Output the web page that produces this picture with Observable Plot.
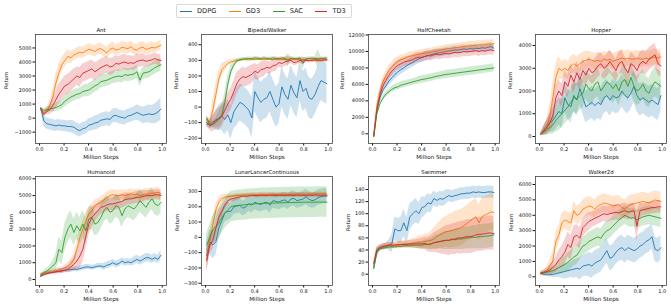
<!DOCTYPE html>
<html><head><meta charset="utf-8">
<script src="https://cdn.jsdelivr.net/npm/d3@7"></script>
<script src="https://cdn.jsdelivr.net/npm/@observablehq/plot@0.6"></script>
<style>
body{margin:0;background:#fff;font-family:"DejaVu Sans",sans-serif;}
#root{position:relative;width:671px;height:308px;overflow:hidden;background:#fff;}
.panel{position:absolute;}
#legend{position:absolute;left:176px;top:4px;height:14px;box-sizing:border-box;border:1px solid #d9d9d9;border-radius:2px;display:flex;align-items:center;padding:0 3px;font-size:6.6px;color:#222;background:#fff;}
#legend .it{display:flex;align-items:center;margin-right:12.5px;}
#legend .it:last-child{margin-right:2px;}
#legend .sw{width:12px;height:1px;margin-right:5px;}
</style></head>
<body><div id="root"><div id="legend"></div></div>
<script>
const series = ["DDPG","GD3","SAC","TD3"];
const colors = ["#1f77b4","#ff7f0e","#2ca02c","#d62728"];
const steps = [0.01,0.035,0.059,0.084,0.108,0.133,0.157,0.182,0.206,0.231,0.255,0.28,0.304,0.329,0.353,0.378,0.402,0.427,0.451,0.476,0.5,0.525,0.549,0.574,0.598,0.623,0.647,0.672,0.696,0.721,0.745,0.77,0.794,0.819,0.843,0.868,0.892,0.917,0.941,0.966,0.99];
const xTicks = [0,0.2,0.4,0.6,0.8,1.0];

// Ant
const antDDPG = [700,-200,-400,-450,-500,-550,-500,-550,-550,-600,-600,-650,-800,-900,-750,-700,-500,-450,-350,-300,-150,-100,-50,-100,150,200,100,50,0,150,200,300,400,300,200,250,300,250,300,450,650];
const antDDPGsd = [200,400,400,400,400,400,400,400,400,400,450,450,450,450,450,450,450,450,500,500,500,500,500,500,500,500,500,500,500,500,500,500,550,550,600,600,650,650,700,750,800];
const antGD3 = [700,350,500,900,1500,2500,3200,3800,4100,4400,4300,4500,4600,4700,4650,4800,4900,4850,4750,4900,4950,4800,4650,4900,5000,4850,4900,5050,5000,4950,5100,4900,4850,5000,5050,4900,4950,5050,5000,5100,5200];
const antGD3sd = [100,150,200,300,500,600,600,500,500,450,450,400,400,400,400,400,400,400,400,400,400,400,400,400,400,400,400,400,400,400,400,400,400,400,400,400,400,400,350,350,350];
const antSAC = [700,550,600,650,700,750,850,950,1200,1350,1500,1600,1700,1750,1900,1950,2000,2150,2300,2400,2600,2650,2700,2800,2900,2950,3000,2950,3100,3050,3100,3150,3300,2700,3200,3250,3300,3450,3600,3700,3800];
const antSACsd = [100,150,200,200,250,300,300,350,400,400,400,400,400,400,400,450,450,450,450,450,450,450,450,450,450,450,450,450,450,450,450,450,450,450,450,450,450,450,450,450,450];
const antTD3 = [700,250,450,600,900,1300,1700,2000,2300,2400,2600,2800,3000,2900,3200,3300,3400,3500,3300,3450,3600,3700,3800,3650,3700,3900,3850,3950,4000,3900,3950,3900,4050,4100,4150,4050,4100,4150,4250,4150,4100];
const antTD3sd = [100,150,200,350,500,600,700,700,700,700,700,700,650,700,650,650,650,650,650,600,600,600,600,600,600,550,550,550,550,550,500,500,500,450,450,400,400,400,400,400,400];
const antTicks = [-1000,0,1000,2000,3000,4000,5000];

// BipedalWalker
const bwDDPG = [-110,-110,-95,-90,-70,-60,-80,-50,-100,-30,0,30,20,0,-20,-70,100,60,30,50,60,100,50,0,20,130,80,50,140,90,60,170,100,120,60,50,80,130,170,160,150];
const bwDDPGsd = [20,30,40,60,80,90,100,100,110,110,120,120,120,120,120,130,130,130,130,130,130,130,130,130,130,130,130,130,130,130,130,130,130,130,130,130,130,130,130,130,130];
const bwGD3 = [-80,-100,-20,80,180,240,260,280,290,295,300,300,305,305,303,306,305,307,306,305,306,307,305,306,307,306,305,306,304,305,306,303,305,304,300,302,305,303,304,302,300];
const bwGD3sd = [20,30,60,60,50,40,30,20,15,12,10,10,10,10,10,10,10,10,10,10,10,10,10,10,10,10,10,10,10,10,10,10,10,10,10,10,10,10,10,10,10];
const bwSAC = [-70,-115,-110,-100,-80,-50,30,150,230,270,295,305,308,310,312,310,315,313,310,315,312,310,315,313,310,315,312,300,314,312,310,313,280,310,312,314,312,310,313,312,315];
const bwSACsd = [20,20,20,30,50,60,60,50,40,20,15,10,10,10,10,10,10,10,10,10,10,10,10,10,10,10,10,40,10,10,10,10,40,10,10,10,10,60,10,10,10];
const bwTD3 = [-100,-120,-110,-80,-75,-60,-20,20,50,100,150,180,195,190,200,210,230,220,240,245,255,250,265,270,285,280,290,295,300,285,290,300,295,300,298,300,302,300,300,302,305];
const bwTD3sd = [20,30,50,60,70,70,70,70,70,70,70,60,60,60,60,60,50,50,50,50,40,40,40,40,30,30,30,30,20,20,20,20,20,15,15,15,15,15,15,15,15];
const bwTicks = [-200,-100,0,100,200,300,400];

// HalfCheetah
const hcDDPG = [-300,2800,4300,5300,5800,6400,6800,7200,7500,7800,8000,8300,8500,8700,8900,9100,9300,9400,9500,9600,9700,9800,9850,9900,10000,10050,10100,10200,10150,10250,10300,10250,10350,10300,10400,10350,10450,10400,10500,10600,10400];
const hcDDPGsd = [200,500,500,500,500,600,600,600,600,600,600,600,600,600,600,600,550,550,550,550,500,500,500,500,500,500,500,500,500,500,500,500,500,500,500,500,500,500,500,500,500];
const hcGD3 = [-300,3200,5000,6300,7000,7700,8100,8500,8800,9000,9100,9300,9400,9500,9600,9650,9700,9800,9850,9900,10000,10050,10150,10200,10300,10350,10400,10450,10500,10550,10600,10650,10700,10700,10750,10800,10800,10850,10900,10900,10950];
const hcGD3sd = [200,500,600,600,600,600,600,600,550,550,500,500,500,500,500,500,500,500,500,500,500,500,500,500,500,500,500,500,500,500,500,500,500,500,500,500,500,500,500,500,500];
const hcSAC = [-300,2400,3600,4300,4800,5100,5400,5600,5700,5900,6000,6100,6200,6300,6400,6500,6600,6650,6750,6800,6900,7000,7050,7150,7200,7250,7300,7350,7400,7450,7500,7550,7600,7650,7700,7750,7800,7850,7900,7950,8000];
const hcSACsd = [200,300,300,300,350,350,400,400,400,400,400,400,400,400,400,450,450,450,450,450,450,450,450,450,500,500,500,500,500,500,500,500,500,500,500,500,500,500,500,500,500];
const hcTD3 = [-300,2900,4600,5800,6500,7100,7600,8000,8300,8500,8700,8800,8900,9000,9200,9300,9250,9400,9500,9450,9600,9650,9600,9700,9750,9700,9800,9900,9850,9900,10000,9950,10000,10050,10100,10000,10100,10050,10150,10200,10100];
const hcTD3sd = [200,500,600,600,600,600,600,600,600,600,600,600,600,600,600,600,600,600,600,600,600,600,600,600,600,600,600,600,600,600,600,600,600,600,600,600,600,600,600,600,600];
const hcTicks = [0,2000,4000,6000,8000,10000,12000];

// Hopper
const hoDDPG = [100,250,400,600,700,900,1100,1000,1700,1400,1300,1800,1600,2100,1700,1300,1400,1500,1350,1500,1400,1700,1800,1600,1800,1700,1750,2000,1800,1700,1900,2200,1800,1600,1700,1600,1500,1600,1500,1400,1800];
const hoDDPGsd = [50,200,300,400,500,600,600,650,650,650,700,700,700,700,700,700,700,700,700,700,700,700,700,700,700,700,700,700,700,700,700,700,700,700,700,700,700,700,700,700,700];
const hoGD3 = [100,300,450,900,1700,2600,3000,2900,3000,2900,3100,3200,3100,3200,3300,3350,3400,3350,3300,3350,3300,3400,3350,3400,3300,3350,3400,3450,3400,3450,3400,3400,3450,3400,3400,3450,3400,3450,3500,3450,3500];
const hoGD3sd = [50,200,300,500,600,600,500,400,400,400,400,400,400,400,400,400,350,350,350,350,350,350,350,350,350,350,350,350,350,350,350,350,350,350,350,350,350,350,350,350,350];
const hoSAC = [100,200,300,400,500,700,850,1000,1150,1300,1500,1700,1650,1800,1900,2300,2100,2000,2300,2400,2000,2200,2400,2300,2100,2300,2000,2400,2500,2200,2600,2200,2000,2100,2300,2000,1900,2200,2400,2300,2200];
const hoSACsd = [50,150,250,300,400,500,600,600,600,600,650,650,650,650,650,650,650,650,650,650,650,650,650,650,650,650,650,650,650,650,650,650,650,650,650,650,650,650,650,650,650];
const hoTD3 = [100,250,400,600,900,1700,2000,1800,2400,2200,2700,2400,2800,2500,2900,2700,3000,2800,2900,3100,3200,3000,3100,3300,3100,2900,3200,3300,3000,2800,3200,3100,2900,3200,3300,3200,3400,3500,3600,3200,3100];
const hoTD3sd = [50,200,300,400,500,500,500,500,500,500,500,500,500,500,500,500,500,500,500,500,500,500,500,500,500,500,500,500,500,500,500,500,500,500,500,500,500,500,500,500,500];
const hoTicks = [0,1000,2000,3000,4000];

// Humanoid
const huDDPG = [200,300,350,400,430,470,500,520,550,580,600,620,600,650,700,750,750,700,750,800,800,750,850,900,1000,900,950,1100,1000,1050,1000,1100,1200,1100,1200,1300,1300,1200,1300,1200,1450];
const huDDPGsd = [100,100,100,100,100,120,120,150,150,150,150,150,150,150,150,150,150,150,150,150,150,200,200,200,200,200,200,200,200,200,200,250,250,250,250,250,250,250,250,250,300];
const huGD3 = [250,330,400,450,480,520,560,600,700,800,950,1200,1800,2500,3000,3500,3900,4100,4400,4500,4600,4750,4900,5000,5050,5000,5000,5050,5000,5050,5100,5050,5100,5000,5050,5100,5100,5150,5150,5200,5100];
const huGD3sd = [100,100,100,100,100,100,150,150,150,200,250,300,400,500,500,500,400,400,350,300,300,300,300,300,300,300,300,300,300,300,300,300,300,300,300,300,300,300,300,300,300];
const huSAC = [300,420,500,650,800,1000,1800,1600,2500,3000,3300,2800,3200,2900,3300,2900,3600,3700,3300,3400,3700,4100,4300,4000,4100,4400,4300,3800,4200,4400,4300,4200,4400,4700,4500,4300,4600,4800,4500,4400,4600];
const huSACsd = [100,100,150,200,300,500,700,700,800,800,800,800,800,800,800,800,700,700,700,700,700,700,700,700,700,700,700,700,700,700,700,700,700,700,650,650,650,650,650,650,650];
const huTD3 = [200,300,350,400,420,450,480,500,550,600,750,900,1100,1400,1800,2600,3300,3700,3900,4100,4300,4350,4450,4500,4500,4550,4600,4650,4750,4800,4800,4850,4900,4900,4950,5000,5000,5000,5050,5050,5000];
const huTD3sd = [100,100,100,100,100,100,150,150,150,200,300,400,500,700,800,800,700,600,500,450,400,400,400,400,400,400,400,400,400,350,350,350,350,350,350,300,300,300,300,300,300];
const huTicks = [0,1000,2000,3000,4000,5000,6000];

// LunarLanderContinuous
const llDDPG = [-120,-30,-50,-30,60,110,160,170,170,200,205,210,190,200,220,210,230,220,215,225,230,210,240,235,230,240,245,230,250,255,240,245,250,265,250,240,245,260,265,270,270];
const llDDPGsd = [100,80,90,90,80,70,60,60,50,50,50,50,50,50,50,50,50,50,50,50,50,50,50,50,50,50,50,50,50,50,50,50,50,50,50,50,50,50,50,50,50];
const llGD3 = [-150,-20,80,180,230,255,262,268,270,272,274,275,276,276,277,277,278,278,278,279,279,280,280,280,280,280,281,281,281,281,282,282,282,282,283,283,283,284,284,284,285];
const llGD3sd = [50,50,50,40,30,25,20,15,12,12,12,12,12,12,12,12,12,12,12,12,12,12,12,12,12,12,12,12,12,12,12,12,12,12,12,12,12,12,12,12,12];
const llSAC = [-50,0,50,70,90,130,160,180,200,205,208,210,212,214,216,218,220,220,222,222,223,224,224,225,226,226,227,228,228,228,229,229,230,230,230,230,230,231,231,231,230];
const llSACsd = [80,80,90,100,100,100,100,100,100,100,100,100,100,100,100,100,100,100,100,100,100,100,100,100,100,100,100,100,100,100,100,100,100,100,100,100,100,100,100,100,100];
const llTD3 = [-150,-50,-20,60,130,170,210,240,250,255,260,265,270,268,272,275,274,273,276,275,274,276,275,273,276,275,274,276,275,274,277,275,276,274,276,275,277,276,275,276,275];
const llTD3sd = [80,60,60,60,50,40,30,25,20,20,20,15,15,15,15,15,15,15,15,15,15,15,15,15,15,15,15,15,15,15,15,15,15,15,15,15,15,15,15,15,15];
const llTicks = [-300,-200,-100,0,100,200,300];

// Swimmer
const swDDPG = [10,35,42,45,46,48,50,75,72,72,85,72,95,100,105,100,110,112,118,116,125,122,125,124,127,130,128,130,131,133,133,134,134,136,135,136,135,135,136,136,135];
const swDDPGsd = [5,8,5,5,5,8,15,20,20,22,22,22,22,20,20,18,18,15,15,15,12,12,12,12,12,10,10,10,10,10,10,10,10,10,10,10,10,10,10,10,10];
const swGD3 = [15,40,43,45,46,47,47,48,48,49,50,50,50,51,52,53,53,54,55,56,58,62,65,68,70,71,72,74,75,77,80,84,88,92,95,85,95,98,100,103,102];
const swGD3sd = [5,5,5,5,5,5,5,5,5,6,6,6,6,8,8,10,10,12,12,15,18,20,22,25,25,28,28,30,30,30,30,30,30,30,30,30,30,30,30,30,30];
const swSAC = [10,38,42,43,44,45,45,45,46,46,47,47,47,48,48,48,48,49,49,50,52,53,54,55,56,56,57,57,58,58,59,60,60,61,61,62,62,63,63,64,65];
const swSACsd = [5,4,3,3,3,3,3,3,3,3,4,4,4,5,5,6,6,7,8,9,10,12,12,14,15,15,16,16,17,17,18,18,18,19,19,20,20,20,20,20,20];
const swTD3 = [18,40,44,46,47,48,48,48,49,49,49,49,50,50,50,50,50,51,49,50,52,53,54,55,56,56,58,58,60,60,61,62,62,63,65,66,66,67,68,68,67];
const swTD3sd = [5,5,4,4,4,4,4,4,4,5,5,5,6,6,7,8,9,10,12,14,16,18,20,22,24,25,25,26,26,27,27,28,28,28,28,28,28,28,28,28,28];
const swTicks = [0,20,40,60,80,100,120,140];

// Walker2d
const wkDDPG = [200,150,130,140,150,200,250,300,350,400,450,500,550,500,700,750,800,700,900,1000,1100,1400,1700,1200,1300,1600,1800,1900,1700,1900,1800,1700,1800,2000,2100,2300,2400,2600,1800,1700,1900];
const wkDDPGsd = [50,100,100,150,200,250,300,400,500,500,500,600,600,700,700,700,800,800,800,800,800,800,800,800,800,800,800,800,800,800,800,800,800,800,800,800,800,800,800,800,800];
const wkGD3 = [250,300,400,700,1000,2300,2700,3500,3700,3600,3500,4300,4000,4100,4400,4500,4600,4550,4400,4600,4700,4800,4750,4700,4600,4650,4700,4500,4400,4600,4700,4750,4800,4850,4900,4850,4800,4900,5000,4950,4900];
const wkGD3sd = [100,150,200,400,500,600,600,600,600,600,600,600,600,600,600,600,600,600,600,600,600,600,600,600,600,600,600,600,600,600,600,600,600,600,600,600,600,600,600,600,600];
const wkSAC = [200,250,300,350,400,500,600,700,800,950,1100,1300,1400,1700,2000,2100,2300,2400,2500,2600,2500,2800,3000,3100,3300,3500,3700,3850,4000,3900,3800,3850,3700,3800,3900,3950,4000,3950,3900,3850,3800];
const wkSACsd = [100,100,150,200,250,300,400,500,500,600,600,600,600,600,600,600,600,600,600,600,600,600,600,600,600,600,600,600,600,600,600,600,600,600,600,600,600,600,600,600,600];
const wkTD3 = [250,300,350,450,600,800,1100,1300,1600,2100,1900,2600,2700,2500,3200,3400,3600,3700,3800,3900,4000,4100,4050,4100,4150,4200,4150,4250,4300,4200,4250,4300,3300,4300,4350,4400,4450,4500,4500,4550,4550];
const wkTD3sd = [100,150,200,300,400,500,600,700,800,800,800,700,700,700,600,600,600,500,500,500,500,500,500,500,500,500,500,500,500,500,500,500,1000,500,400,400,400,400,400,400,400];
const wkTicks = [0,1000,2000,3000,4000,5000,6000];

const envs = [
  {name:"Ant", means:[antDDPG,antGD3,antSAC,antTD3], sds:[antDDPGsd,antGD3sd,antSACsd,antTD3sd], ticks:antTicks, domain:[-1810,5960], ylab:-29},
  {name:"BipedalWalker", means:[bwDDPG,bwGD3,bwSAC,bwTD3], sds:[bwDDPGsd,bwGD3sd,bwSACsd,bwTD3sd], ticks:bwTicks, domain:[-234,466], ylab:-25},
  {name:"HalfCheetah", means:[hcDDPG,hcGD3,hcSAC,hcTD3], sds:[hcDDPGsd,hcGD3sd,hcSACsd,hcTD3sd], ticks:hcTicks, domain:[-1180,12060], ylab:-26},
  {name:"Hopper", means:[hoDDPG,hoGD3,hoSAC,hoTD3], sds:[hoDDPGsd,hoGD3sd,hoSACsd,hoTD3sd], ticks:hoTicks, domain:[-308,4483], ylab:-25},
  {name:"Humanoid", means:[huDDPG,huGD3,huSAC,huTD3], sds:[huDDPGsd,huGD3sd,huSACsd,huTD3sd], ticks:huTicks, domain:[-357,6137], ylab:-24},
  {name:"LunarLancerContinuous", means:[llDDPG,llGD3,llSAC,llTD3], sds:[llDDPGsd,llGD3sd,llSACsd,llTD3sd], ticks:llTicks, domain:[-315,398], ylab:-24.5},
  {name:"Swimmer", means:[swDDPG,swGD3,swSAC,swTD3], sds:[swDDPGsd,swGD3sd,swSACsd,swTD3sd], ticks:swTicks, domain:[-18.7,161.5], ylab:-20},
  {name:"Walker2d", means:[wkDDPG,wkGD3,wkSAC,wkTD3], sds:[wkDDPGsd,wkGD3sd,wkSACsd,wkTD3sd], ticks:wkTicks, domain:[-565,6520], ylab:-24}
];

const colLefts = [35, 201, 368, 535];
const rowTops = [34, 176];
const frameW = 131, frameH = 109;
const mL = 36, mR = 4, mT = 14, mB = 24;

const fmt = d => d < 0 ? "\u2212" + Math.abs(d) : String(d);
const root = document.getElementById("root");

envs.forEach((env, idx) => {
  const col = idx % 4, row = Math.floor(idx / 4);
  const marks = [];
  series.forEach((s, k) => {
    const rows = steps.map((x, i) => ({x, m: env.means[k][i], sd: env.sds[k][i]}));
    marks.push(Plot.areaY(rows, {x: "x", y1: d => d.m - d.sd, y2: d => d.m + d.sd, fill: colors[k], fillOpacity: 0.22, clip: true}));
    marks.push(Plot.lineY(rows, {x: "x", y: "m", stroke: colors[k], strokeWidth: 0.9, clip: true}));
  });
  marks.push(Plot.frame({stroke: "#444", strokeWidth: 0.8}));
  marks.push(Plot.text([env.name], {text: d => d, frameAnchor: "top", dy: -6, fontSize: 5.4, fill: "#111"}));
  marks.push(Plot.text(["Million Steps"], {text: d => d, frameAnchor: "bottom", dy: 15, fontSize: 5.6, fill: "#111"}));
  marks.push(Plot.text(["Return"], {text: d => d, frameAnchor: "left", dx: env.ylab, rotate: -90, fontSize: 5.2, fill: "#111"}));
  const chart = Plot.plot({
    width: mL + frameW + mR,
    height: mT + frameH + mB,
    marginLeft: mL, marginRight: mR, marginTop: mT, marginBottom: mB,
    style: {fontSize: "5px", fontFamily: "DejaVu Sans", background: "transparent", color: "#111"},
    x: {domain: [-0.033, 1.035], ticks: xTicks, tickFormat: d => d.toFixed(1), tickSize: 2.5, tickPadding: 1.5, label: null},
    y: {domain: env.domain, ticks: env.ticks, tickFormat: fmt, tickSize: 2.5, tickPadding: 1.5, label: null},
    marks
  });
  const div = document.createElement("div");
  div.className = "panel";
  div.style.left = (colLefts[col] - mL) + "px";
  div.style.top = (rowTops[row] - mT) + "px";
  div.appendChild(chart);
  root.appendChild(div);
});

const legend = d3.select("#legend");
series.forEach((s, k) => {
  const it = legend.append("div").attr("class", "it");
  it.append("div").attr("class", "sw").style("background", colors[k]);
  it.append("span").text(s);
});
</script></body></html>
